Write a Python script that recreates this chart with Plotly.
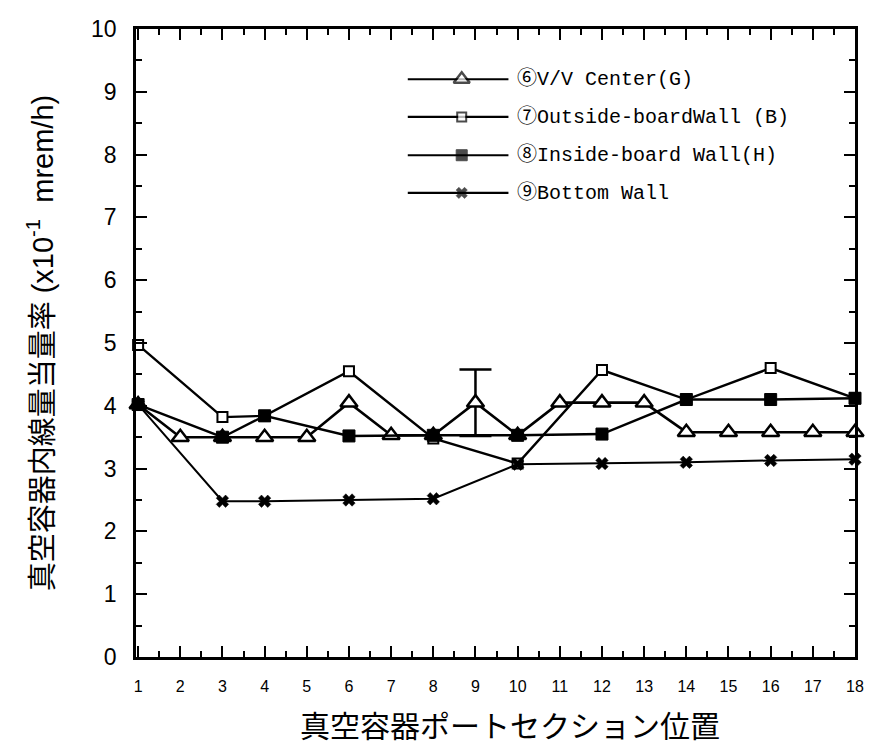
import plotly.graph_objects as go

# Port section positions
sections = list(range(1, 19))

# (6) V/V Center (G) -- measured at every section
y_center = [4.02, 3.5, 3.5, 3.5, 3.5, 4.05, 3.53, 3.53, 4.05, 3.53,
            4.05, 4.05, 4.05, 3.58, 3.58, 3.58, 3.58, 3.58]
# scatter of the reading at section 9
err_x = [9]
err_y = [4.05]
err_val = [0.53]

# (7) Outside-board wall (B)
x_outside = [1, 3, 4, 6, 8, 10, 12, 14, 16, 18]
y_outside = [4.97, 3.82, 3.84, 4.55, 3.48, 3.08, 4.57, 4.1, 4.6, 4.12]

# (8) Inside-board wall (H)
x_inside = [1, 3, 4, 6, 8, 10, 12, 14, 16, 18]
y_inside = [4.02, 3.5, 3.84, 3.52, 3.53, 3.53, 3.55, 4.1, 4.1, 4.12]

# (9) Bottom wall
x_bottom = [1, 3, 4, 6, 8, 10, 12, 14, 16, 18]
y_bottom = [4.02, 2.48, 2.48, 2.5, 2.52, 3.07, 3.08, 3.1, 3.13, 3.15]

series_names = ["⑥V/V Center(G)", "⑦Outside-boardWall (B)",
                "⑧Inside-board Wall(H)", "⑨Bottom Wall"]

x_ticks = sections
y_ticks = list(range(0, 11))

BLACK = "#000000"
CJK = "Liberation Sans, Noto Sans CJK JP, sans-serif"
LEG_FONT = "Liberation Mono, Noto Sans CJK JP, monospace"

styles = [
    dict(symbol="triangle-up", size=15, color="white", lw=2.5, line=2.6),
    dict(symbol="square", size=10, color="white", lw=2.0, line=2.4),
    dict(symbol="square", size=12, color=BLACK, lw=1.0, line=2.4),
    dict(symbol="x", size=11, color=BLACK, lw=0.5, line=2.0),
]

fig = go.Figure()

# error bar at section 9 (drawn beneath the markers)
fig.add_trace(go.Scatter(
    x=err_x, y=err_y, mode="markers",
    marker=dict(size=1, color="rgba(0,0,0,0)"),
    error_y=dict(type="data", array=err_val, visible=True,
                 color=BLACK, thickness=2.5, width=16),
    showlegend=False, hoverinfo="skip", cliponaxis=False))

data = [
    (sections, y_center),
    (x_outside, y_outside),
    (x_inside, y_inside),
    (x_bottom, y_bottom),
]
for (xs, ys), st, name in zip(data, styles, series_names):
    fig.add_trace(go.Scatter(
        x=xs, y=ys, mode="lines+markers", name=name,
        line=dict(color=BLACK, width=st["line"]),
        marker=dict(symbol=st["symbol"], size=st["size"], color=st["color"],
                    line=dict(color=BLACK, width=st["lw"])),
        showlegend=False, cliponaxis=False))

# Hand-drawn legend inside the plot area (overlay axes in 0..1 units)
leg_x0, leg_xm, leg_x1, leg_xt = 0.378, 0.453, 0.518, 0.527
leg_rows = [0.920, 0.860, 0.799, 0.739]
for st, name, ry in zip(styles, series_names, leg_rows):
    fig.add_trace(go.Scatter(
        x=[leg_x0, leg_xm, leg_x1], y=[ry, ry, ry],
        xaxis="x2", yaxis="y2", mode="lines+markers",
        line=dict(color=BLACK, width=2.2),
        marker=dict(symbol=st["symbol"], size=[0, st["size"] - 1, 0],
                    color=st["color"],
                    line=dict(color=BLACK, width=[0, st["lw"], 0])),
        showlegend=False, hoverinfo="skip"))
    fig.add_annotation(
        x=leg_xt, y=ry, xref="paper", yref="paper",
        text=name, showarrow=False, xanchor="left", yanchor="middle",
        font=dict(family=LEG_FONT, size=20, color=BLACK))

axis_common = dict(
    showline=True, linecolor=BLACK, linewidth=2.8, mirror="allticks",
    ticks="inside", ticklen=11, tickwidth=2, tickcolor=BLACK,
    showgrid=False, zeroline=False,
)

fig.update_layout(
    width=876, height=747,
    margin=dict(l=136, r=18, t=29, b=90),
    paper_bgcolor="white", plot_bgcolor="white",
    xaxis=dict(range=[0.95, 18.0], tickmode="array", tickvals=x_ticks,
               ticktext=[str(v) for v in x_ticks],
               tickfont=dict(family="Liberation Sans", size=16, color=BLACK),
               ticklabelstandoff=13,
               minor=dict(dtick=0.5, tick0=0.5, ticks="inside", ticklen=6,
                          tickwidth=1.5, tickcolor=BLACK, showgrid=False),
               **axis_common),
    yaxis=dict(range=[0, 10], tickmode="array", tickvals=y_ticks,
               ticktext=[str(v) for v in y_ticks],
               tickfont=dict(family="Liberation Sans", size=23, color=BLACK),
               ticklabelstandoff=12,
               minor=dict(dtick=0.5, tick0=0.5, ticks="inside", ticklen=6,
                          tickwidth=1.5, tickcolor=BLACK, showgrid=False),
               **axis_common),
    xaxis2=dict(overlaying="x", range=[0, 1], visible=False),
    yaxis2=dict(overlaying="y", range=[0, 1], visible=False),
    showlegend=False,
)

# Axis titles
fig.add_annotation(
    x=0.52, y=-0.11, xref="paper", yref="paper",
    text="真空容器ポートセクション位置", showarrow=False,
    xanchor="center", yanchor="middle",
    font=dict(family=CJK, size=30, color=BLACK))
fig.add_annotation(
    x=-0.133, y=0.5, xref="paper", yref="paper", textangle=-90,
    text="真空容器内線量当量率 (x10<sup>-1</sup>\u00a0 mrem/h)", showarrow=False,
    xanchor="center", yanchor="middle",
    font=dict(family=CJK, size=29, color=BLACK))

fig.write_html("out.html")
